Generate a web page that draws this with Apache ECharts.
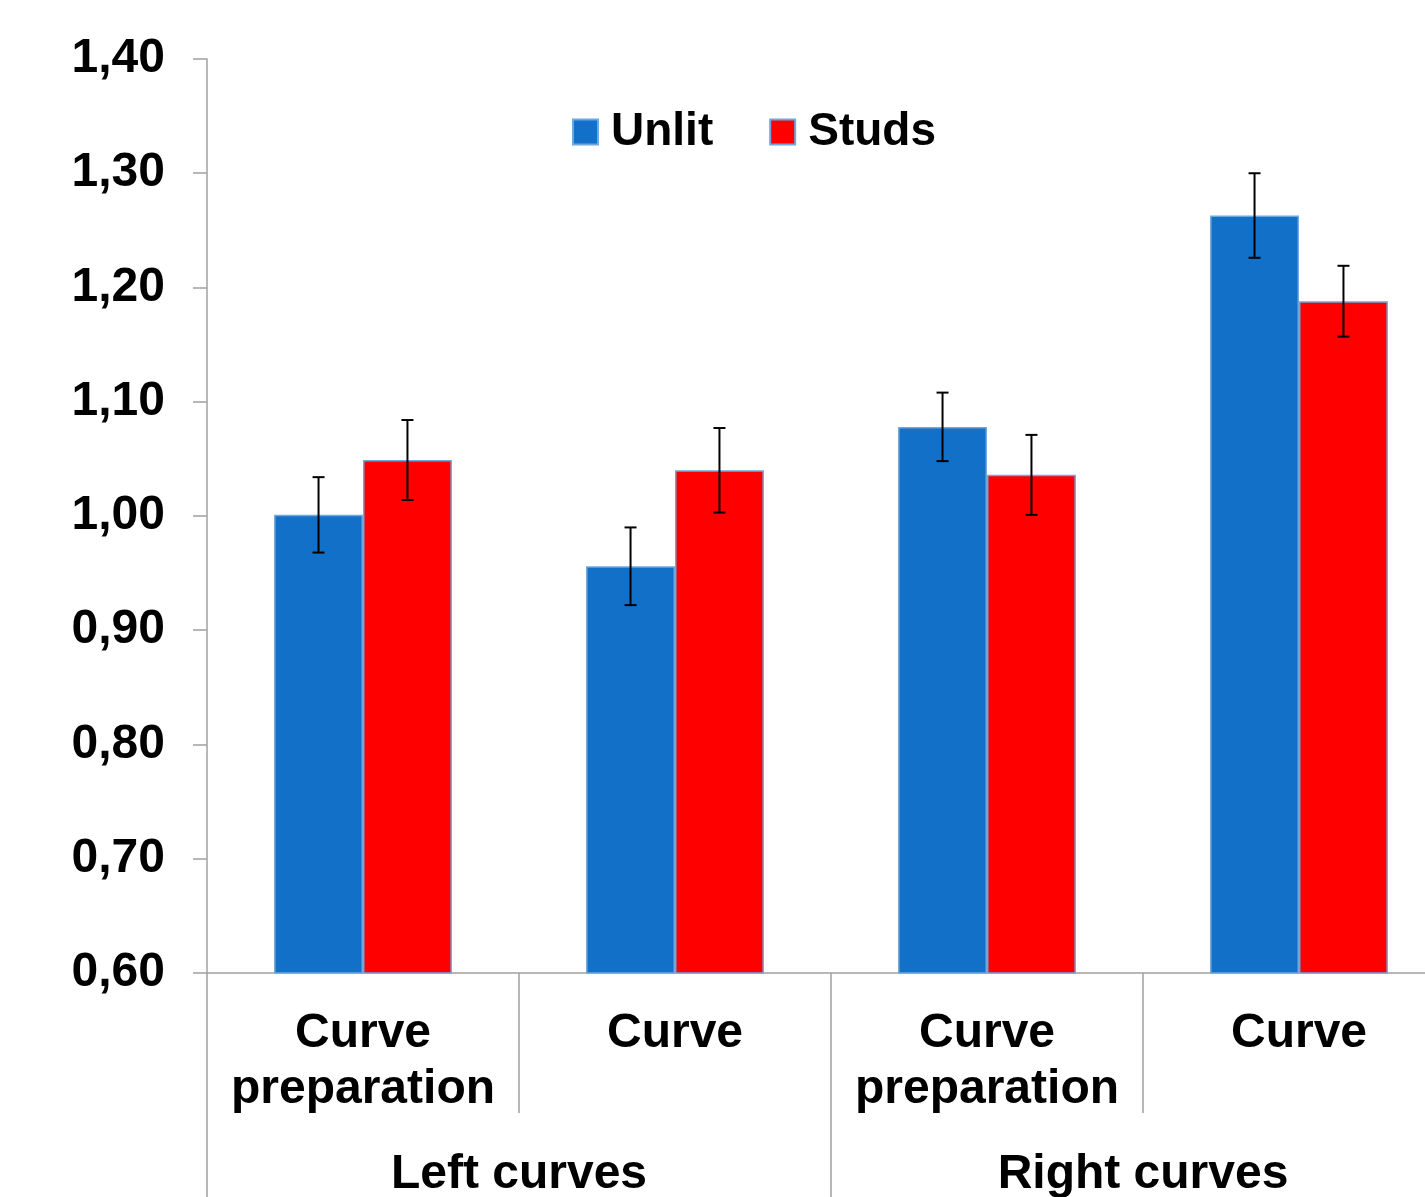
<!DOCTYPE html>
<html>
<head>
<meta charset="utf-8">
<script src="https://cdn.jsdelivr.net/npm/echarts@6/dist/echarts.min.js"></script>
<style>
html,body{margin:0;padding:0;overflow:hidden;background:#fff;}
#chart{width:1460px;height:1197px;}
</style>
</head>
<body>
<div id="chart"></div>
<script>
const categories = ['Curve\npreparation', 'Curve', 'Curve\npreparation', 'Curve'];
const groups = ['Left curves', 'Right curves'];
const seriesNames = ['Unlit', 'Studs'];
const unlitValues = [1.001, 0.956, 1.078, 1.263];
const studsValues = [1.049, 1.040, 1.036, 1.188];
const unlitErr = [0.033, 0.034, 0.030, 0.037];
const studsErr = [0.035, 0.037, 0.035, 0.031];
const yTicks = { min: 0.6, max: 1.4, interval: 0.1 };

const FONT = '"Liberation Sans", Arial, sans-serif';
const AXIS_COLOR = '#a0a0a0';
const BLUE = '#1270c8';
const RED = '#ff0000';
const BORDER = '#6fa8dc';
const BAR_FRAC = 0.57;

function errData(vals, errs) {
  return vals.map((v, i) => [i, v - errs[i], v + errs[i]]);
}
function makeErr(name, vals, errs, side) {
  return {
    type: 'custom',
    name: name + ' error',
    xAxisIndex: 0,
    yAxisIndex: 0,
    z: 10,
    silent: true,
    data: errData(vals, errs),
    renderItem: function (params, api) {
      const i = api.value(0);
      const lo = api.coord([i, api.value(1)]);
      const hi = api.coord([i, api.value(2)]);
      const band = api.size([1, 0])[0];
      const bw = band * BAR_FRAC / 2;
      const x = lo[0] + side * bw / 2;
      const cap = 6;
      const st = { stroke: '#000', lineWidth: 2 };
      return {
        type: 'group',
        children: [
          { type: 'line', shape: { x1: x, y1: lo[1], x2: x, y2: hi[1] }, style: st },
          { type: 'line', shape: { x1: x - cap, y1: lo[1], x2: x + cap, y2: lo[1] }, style: st },
          { type: 'line', shape: { x1: x - cap, y1: hi[1], x2: x + cap, y2: hi[1] }, style: st }
        ]
      };
    }
  };
}

const chart = echarts.init(document.getElementById('chart'), null, { renderer: 'canvas' });
chart.setOption({
  animation: false,
  textStyle: { fontFamily: FONT },
  grid: { left: 207, right: 5, top: 59, bottom: 224, containLabel: false, outerBoundsMode: 'none' },
  legend: {
    data: seriesNames,
    left: 572,
    top: 109,
    padding: 0,
    itemWidth: 25,
    itemHeight: 25,
    itemGap: 56,
    icon: 'rect',
    textStyle: { fontFamily: FONT, fontSize: 46, fontWeight: 'bold', color: '#000', lineHeight: 44, padding: [0, 0, 0, 8] }
  },
  xAxis: [
    {
      type: 'category',
      data: categories,
      position: 'bottom',
      axisLine: { show: true, lineStyle: { color: AXIS_COLOR, width: 1.5 } },
      axisTick: { show: true, interval: 0, length: 140, lineStyle: { color: AXIS_COLOR, width: 1.5 } },
      axisLabel: { interval: 0, margin: 33, fontFamily: FONT, fontSize: 48, fontWeight: 'bold', color: '#000', lineHeight: 56 },
      splitLine: { show: false }
    },
    {
      type: 'category',
      data: groups,
      position: 'bottom',
      gridIndex: 0,
      axisLine: { show: false },
      axisTick: { show: true, interval: 0, length: 240, lineStyle: { color: AXIS_COLOR, width: 1.5 } },
      axisLabel: { interval: 0, margin: 174, fontFamily: FONT, fontSize: 48, fontWeight: 'bold', color: '#000', lineHeight: 56 },
      splitLine: { show: false }
    }
  ],
  yAxis: {
    type: 'value',
    min: yTicks.min,
    max: yTicks.max,
    interval: yTicks.interval,
    axisLine: { show: true, lineStyle: { color: AXIS_COLOR, width: 1.5 } },
    axisTick: { show: true, length: 14, lineStyle: { color: AXIS_COLOR, width: 1.5 } },
    splitLine: { show: false },
    axisLabel: {
      margin: 42,
      fontFamily: FONT,
      fontSize: 48,
      fontWeight: 'bold',
      color: '#000',
      padding: [6, 0, 0, 0],
      formatter: v => v.toFixed(2).replace('.', ',')
    }
  },
  series: [
    {
      name: 'Unlit',
      type: 'bar',
      xAxisIndex: 0,
      data: unlitValues,
      barGap: '0%',
      barCategoryGap: '43%',
      itemStyle: { color: BLUE, borderColor: BORDER, borderWidth: 1.5 }
    },
    {
      name: 'Studs',
      type: 'bar',
      xAxisIndex: 0,
      data: studsValues,
      barGap: '0%',
      barCategoryGap: '43%',
      itemStyle: { color: RED, borderColor: BORDER, borderWidth: 1.5 }
    },
    makeErr('Unlit', unlitValues, unlitErr, -1),
    makeErr('Studs', studsValues, studsErr, 1)
  ]
});
</script>
</body>
</html>
